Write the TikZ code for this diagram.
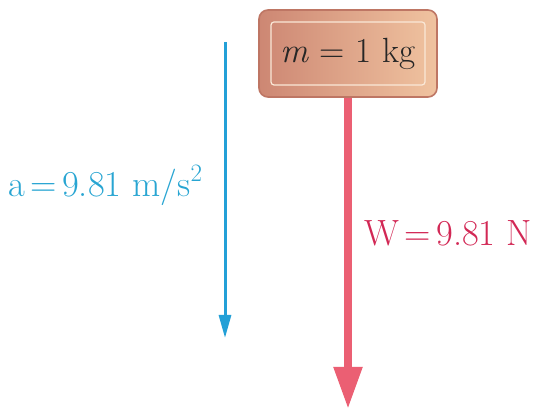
\documentclass[tikz,border=0pt]{standalone}
\usetikzlibrary{arrows.meta,shapes.misc}
\definecolor{accblue}{RGB}{35,160,215}
\definecolor{acctext}{RGB}{40,165,210}
\definecolor{wred}{RGB}{235,95,115}
\definecolor{wtext}{RGB}{210,40,85}
\definecolor{boxdark}{RGB}{190,118,100}
\definecolor{boxleft}{RGB}{205,135,115}
\definecolor{boxright}{RGB}{240,195,160}
\definecolor{boxline}{RGB}{250,232,215}
\newcommand{\eqs}{\hspace{0.15em}=\hspace{0.15em}}
\newcommand{\supsq}{\raisebox{0.42em}{\fontsize{25}{28}\selectfont 2}}
\tikzset{
  bigfont/.style={font=\fontsize{36.5}{42}\selectfont},
  boxfont/.style={font=\fontsize{35}{42}\selectfont},
  outerbox/.style={draw=boxdark, line width=1.6pt, rounded corners=9pt, left color=boxleft, right color=boxright, minimum width=178pt, minimum height=87pt, inner sep=0pt},
  innerbox/.style={draw=boxline, line width=1.2pt, rounded corners=3pt, minimum width=154pt, minimum height=63pt, inner sep=0pt, text=black!85},
  weightarrow/.style={draw=wred, line width=8pt, -{Triangle[width=27pt,length=42pt]}, fill=wred},
  accelarrow/.style={draw=accblue, line width=3pt, -{Triangle[width=12pt,length=23pt]}, fill=accblue},
}
\begin{document}
\begin{tikzpicture}[x=1pt,y=1pt]
\useasboundingbox (0,0) rectangle (541,-411);
\node[outerbox] (box) at (348,-53.5) {};
\node[innerbox, boxfont] (inner) at (348,-53.5) {\textit{m} = 1 kg};
\coordinate (wtip) at (348,-409);
\draw[weightarrow] (box.south) -- (wtip);
\coordinate (atop) at (225,-42);
\coordinate (abot) at (225,-338);
\draw[accelarrow] (atop) -- (abot);
\node[bigfont, text=acctext, anchor=base west, inner sep=0pt] (alabel) at (8,-197) {a\eqs 9.81 m/s\supsq};
\node[bigfont, text=wtext, anchor=base west, inner sep=0pt] (wlabel) at (364,-246) {W\eqs 9.81 N};
\end{tikzpicture}
\end{document}
